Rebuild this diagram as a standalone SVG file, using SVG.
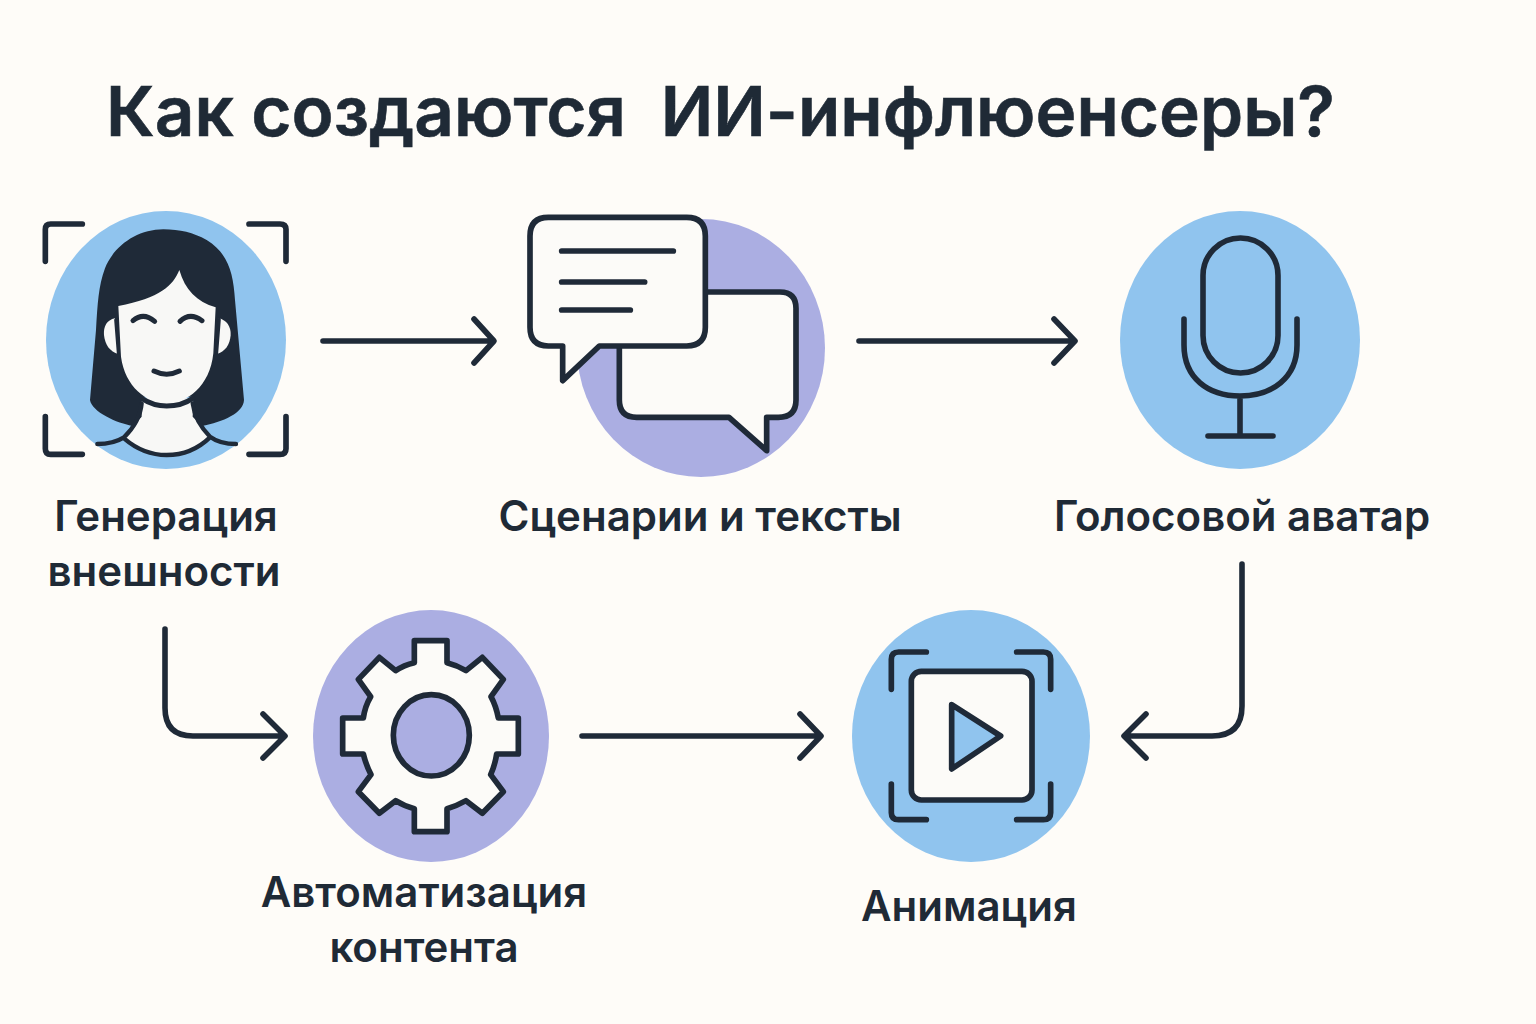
<svg xmlns="http://www.w3.org/2000/svg" width="1536" height="1024" viewBox="0 0 1536 1024">
<defs><style>
.t{font-family:"Inter","Liberation Sans",sans-serif;fill:#1f2a36}
.title{font-size:69.2px;font-weight:600;stroke:#1f2a36;stroke-width:.6}
.lab{font-size:42px;font-weight:560;text-anchor:middle}
.blue{fill:#90c4ee}
.vio{fill:#abaee2}
.ln{fill:none;stroke:#1f2a38;stroke-width:5.6;stroke-linecap:round;stroke-linejoin:round}
.ln3{fill:none;stroke:#1f2a38;stroke-width:17;stroke-linecap:round;stroke-linejoin:round}
.w{fill:#fcfbf8;stroke:#1f2a38;stroke-width:17;stroke-linecap:round;stroke-linejoin:round}
</style></defs>
<rect width="1536" height="1024" fill="#fefcf8"/>
<text class="t title" x="106" y="136" xml:space="preserve">Как создаются  ИИ-инфлюенсеры?</text>
<g id="connectors" class="ln">
<path d="M323 341H493M474 319L494 341L474 363"/>
<path d="M859 341H1074M1054 319L1075 341L1054 363"/>
<path d="M1242 564V706Q1242 736 1212 736H1125M1146 714L1124 736L1146 758"/>
<path d="M165 629V708Q165 736 193 736H284M263 714L285 736L263 758"/>
<path d="M582 736H820M800 714L821 736L800 758"/>
</g>
<g id="node-appearance">
<ellipse class="blue" cx="166" cy="340" rx="120" ry="129"/>
<g transform="translate(20 190) scale(.33333)">
<path fill="#f8f8f6" d="M310 745Q350 700 362 625H518Q525 700 572 745Q510 798 440 798Q365 798 310 745Z"/>
<path fill="#1f2a38" d="M430 118C350 118 280 170 255 235C235 290 233 340 228 420L210 630C215 665 290 700 340 708L365 680L365 620L520 620L518 680L545 708C610 695 670 670 672 630L645 330C640 250 625 190 560 150C520 128 480 118 430 118Z"/>
<path fill="#f8f8f6" d="M478 240C460 285 420 325 295 348L303 500C315 590 380 640 440 640C500 640 570 590 580 490L587 352C530 335 495 300 478 240Z"/>
<path fill="#f8f8f6" d="M285 385C260 390 250 410 252 435C255 465 270 485 295 492Z"/>
<path fill="#f8f8f6" d="M596 385C620 390 633 410 632 435C630 465 615 485 590 492Z"/>
<path class="ln3" style="stroke-width:15" d="M365 625Q400 648 440 648Q485 648 518 625M339 392Q370 365 404 394M480 394Q510 365 546 392M402 543Q440 562 478 543"/>
<path class="ln3" style="stroke-width:9" d="M287 390L295 490M598 388L590 490"/>
<path class="ln3" style="stroke-width:13" d="M365 640Q360 695 312 742Q280 762 232 762M518 640Q525 695 570 740Q600 762 648 762M312 745Q370 795 440 795Q515 795 570 742"/>
<path class="ln3" d="M76 214V118Q76 102 92 102H187M687 102H780Q798 102 798 118V214M76 680V776Q76 793 92 793H187M687 793H780Q798 793 798 776V680"/>
</g>
</g>
<g id="node-scripts">
<ellipse class="vio" cx="701" cy="348" rx="124" ry="129"/>
<g transform="translate(510 200) scale(.33333)">
<path class="w" d="M375 276H810Q858 276 858 325V600Q858 652 805 652H770V752L657 652H380Q328 652 328 600V325Q328 276 375 276Z"/>
<path class="w" d="M115 52H530Q586 52 586 108V382Q586 438 530 438H268L158 542V438H115Q60 438 60 382V108Q60 52 115 52Z"/>
<path class="ln3" d="M155 153H490M155 246H404M155 330H361"/>
</g>
</g>
<g id="node-voice">
<ellipse class="blue" cx="1240" cy="340" rx="120" ry="129"/>
<rect class="ln" x="1203" y="238" width="75" height="135" rx="37.5"/>
<path class="ln" d="M1184 319V345C1184 378 1208 396 1240 396C1272 396 1297 378 1297 345V319M1240 396V436M1208 436H1273"/>
</g>
<g id="node-automation">
<ellipse class="vio" cx="431" cy="736" rx="118" ry="126"/>
<g transform="translate(300 600) scale(.33333)">
<path class="w" d="M343 122H441V188Q470 195 498 212L547 172L610 238L573 290Q588 318 595 354H655V462H590Q585 495 572 524L610 575L547 640L498 602Q470 618 441 626V695H343V626Q312 618 287 602L238 640L175 575L213 524Q198 495 190 462H128V354H190Q195 318 212 290L175 238L238 172L287 212Q312 195 343 188Z"/>
<ellipse cx="394" cy="406" rx="114" ry="122" fill="#abaee2" stroke="#1f2a38" stroke-width="17"/>
</g>
</g>
<g id="node-animation">
<ellipse class="blue" cx="971" cy="736" rx="119" ry="126"/>
<g transform="translate(840 600) scale(.33333)">
<rect class="w" x="214" y="214" width="362" height="386" rx="30"/>
<path class="ln3" style="fill:#90c4ee" d="M335 314L482 408L335 507Z"/>
<path class="ln3" d="M154 268V178Q154 156 176 156H259M530 156H610Q632 156 632 178V268M154 552V638Q154 659 176 659H259M530 659H610Q632 659 632 638V552"/>
</g>
</g>
<g id="labels">
<text class="t lab" x="166" y="531">Генерация</text>
<text class="t lab" x="164" y="586">внешности</text>
<text class="t lab" x="700" y="531">Сценарии и тексты</text>
<text class="t lab" x="1242" y="531">Голосовой аватар</text>
<text class="t lab" x="424" y="907">Автоматизация</text>
<text class="t lab" x="424" y="962">контента</text>
<text class="t lab" x="969" y="921">Анимация</text>
</g>
</svg>
